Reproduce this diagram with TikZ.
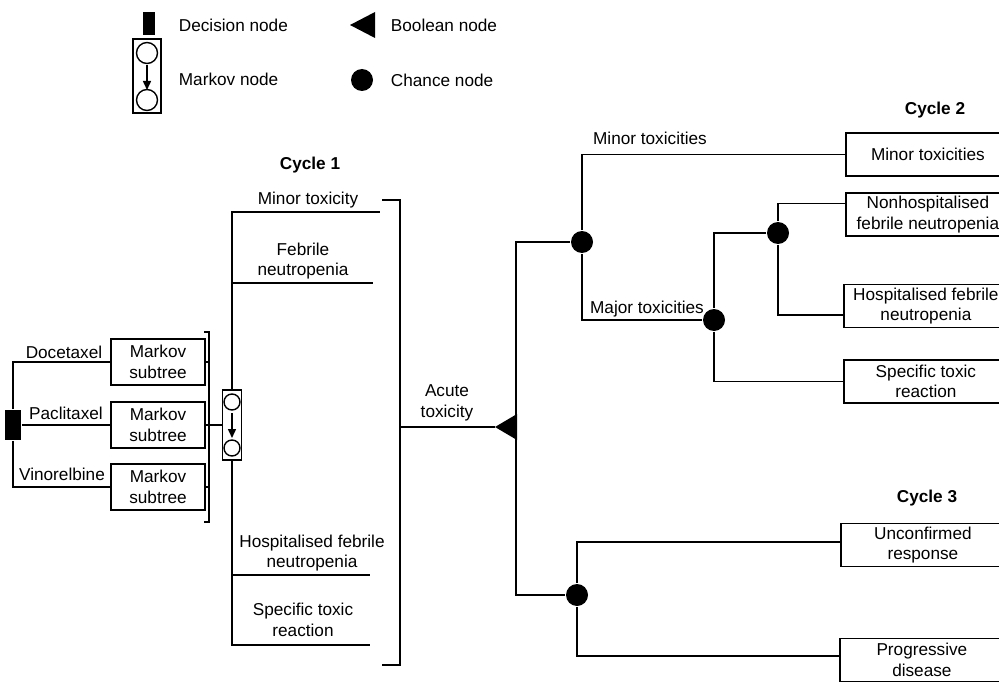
\documentclass[tikz,border=0pt]{standalone}
\usepackage{fontspec}
\setmainfont{Liberation Sans}
\usetikzlibrary{arrows.meta,calc}
\begin{document}
\begin{tikzpicture}[x=1pt,y=-1pt, line width=1.8pt,
  every node/.style={font=\fontsize{17.2}{20.5}\selectfont},
  lbl/.style={inner sep=0pt, align=center},
  cyc/.style={lbl, font=\fontsize{17.2}{20.5}\selectfont\bfseries},
  subbox/.style={draw, line width=1.8pt, minimum width=94pt, minimum height=46pt, inner sep=0pt, align=center},
  outbox/.style={draw, line width=1.8pt, minimum width=164pt, minimum height=43pt, inner sep=0pt, align=center, anchor=west},
  chance/.style={circle, fill=black, minimum size=22pt, inner sep=0pt},
  decision/.style={rectangle, fill=black, inner sep=0pt},
  markov/.style={draw, line width=1.8pt, inner sep=0pt},
  mkarrow/.style={-{Triangle[width=8pt,length=9pt]}, line width=1.5pt},
]
\useasboundingbox (0,0) rectangle (999,682);
\clip (0,0) rectangle (999,682);

% ---------- Legend ----------
\node[decision, minimum width=12pt, minimum height=23pt] (legdec) at (149,23.5) {};
\node[lbl, anchor=west] (legdect) at (178,25) {Decision node};
\node[markov, minimum width=28pt, minimum height=74pt] (legmk) at (147,76) {};
\draw[line width=1.4pt] (147,53) circle[radius=10.5pt];
\draw[line width=1.4pt] (147,100) circle[radius=10.5pt];
\draw[mkarrow] (147,65) -- (147,90);
\node[lbl, anchor=west] (legmkt) at (178,79) {Markov node};
\coordinate (legbool) at (350,25);
\fill (legbool) -- ++(25,-13) -- ++(0,26) -- cycle;
\node[lbl, anchor=west] (legboolt) at (390,25) {Boolean node};
\node[chance] (legch) at (362,80) {};
\node[lbl, anchor=west] (legcht) at (390,80) {Chance node};

% ---------- Decision and Markov subtrees ----------
\node[decision, minimum width=16pt, minimum height=30pt] (dec) at (13,425) {};
\node[subbox] (sub1) at (158,362) {Markov\\subtree};
\node[subbox] (sub2) at (158,425) {Markov\\subtree};
\node[subbox] (sub3) at (158,487) {Markov\\subtree};
\draw (dec.north) |- (sub1.west);
\draw (dec.east) -- (sub2.west);
\draw (dec.south) |- (sub3.west);
\node[lbl] (ldoc) at (64,352) {Docetaxel};
\node[lbl] (lpac) at (66,413) {Paclitaxel};
\node[lbl] (lvin) at (62,474) {Vinorelbine};

\coordinate (brt) at (209,332);
\coordinate (brb) at (209,522);
\draw ($(brt)+(-5,0)$) -- (brt) -- (brb) -- ($(brb)+(-5,0)$);
\draw (sub1.east) -- (sub1.east -| brt);
\draw (sub3.east) -- (sub3.east -| brt);

\node[markov, minimum width=19pt, minimum height=70pt] (mk) at (232,425) {};
\draw (sub2.east) -- (mk.west);
\draw[line width=1.4pt] (232,402) circle[radius=8pt];
\draw[line width=1.4pt] (232,448) circle[radius=8pt];
\draw[mkarrow] (232,413) -- (232,438);

% ---------- Cycle 1 ----------
\node[cyc] (cyc1) at (310,165) {Cycle 1};
\coordinate (m1) at (380,212);
\coordinate (m2) at (373,283);
\coordinate (m3) at (370,575);
\coordinate (m4) at (370,645);
\draw (mk.north) |- (m1);
\draw (mk.north |- m2) -- (m2);
\draw (mk.south) |- (m4);
\draw (mk.south |- m3) -- (m3);
\node[lbl] (lminor1) at (308,200) {Minor toxicity};
\node[lbl] (lfeb1) at (303,261) {Febrile\\neutropenia};
\node[lbl] (lhosp1) at (312,553) {Hospitalised febrile\\neutropenia};
\node[lbl] (lspec1) at (303,620) {Specific toxic\\reaction};

\coordinate (rbt) at (400,200);
\coordinate (rbb) at (400,665);
\draw ($(rbt)+(-18,0)$) -- (rbt) -- (rbb) -- ($(rbb)+(-18,0)$);

% ---------- Boolean node ----------
\coordinate (acute) at (400,427);
\coordinate (bool) at (495,427);
\fill (bool) -- ++(22,-13) -- ++(0,26) -- cycle;
\draw (acute) -- (bool);
\node[lbl] (lacute) at (447,403) {Acute\\toxicity};
\coordinate (boolr) at (516,427);

\node[chance] (c1) at (582,242) {};
\node[chance] (c4) at (577,595) {};
\draw (c1.west) -| (boolr) |- (c4.west);

% ---------- Cycle 2 ----------
\node[cyc] (cyc2) at (935,110) {Cycle 2};
\node[outbox] (b1) at (845,154.5) {Minor toxicities};
\node[lbl] (lminor2) at (650,138) {Minor toxicities};
\draw (c1.north) |- (b1.west);
\node[chance] (c2) at (714,320) {};
\node[lbl] (lmajor2) at (647,309) {Major toxicities};
\draw (c1.south) |- (c2.west);
\node[chance] (c3) at (778,233) {};
\draw (c2.north) |- (c3.west);
\node[outbox] (b2) at (845,214.5) {Nonhospitalised\\febrile neutropenia};
\draw (c3.north) |- ([yshift=11pt]b2.west);
\node[outbox] (b3) at (843,306) {Hospitalised febrile\\neutropenia};
\draw (c3.south) |- ([yshift=-9pt]b3.west);
\node[outbox] (b4) at (843,381.5) {Specific toxic\\reaction};
\draw (c2.south) |- (b4.west);

% ---------- Cycle 3 ----------
\node[cyc] (cyc3) at (927,498) {Cycle 3};
\node[outbox] (b5) at (840,545) {Unconfirmed\\response};
\draw (c4.north) |- ([yshift=3pt]b5.west);
\node[outbox] (b6) at (839,660) {Progressive\\disease};
\draw (c4.south) |- ([yshift=4pt]b6.west);
\end{tikzpicture}
\end{document}
